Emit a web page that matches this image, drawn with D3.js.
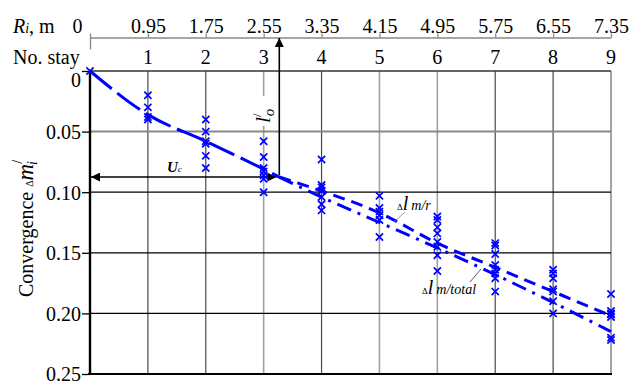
<!DOCTYPE html>
<html>
<head>
<meta charset="utf-8">
<script src="https://cdn.jsdelivr.net/npm/d3@7"></script>
<style>
  body { margin: 0; background: #fff; }
  svg { font-family: "Liberation Serif", "Times New Roman", serif; }
</style>
</head>
<body>
<svg id="chart" width="643" height="382"></svg>
<script>
// ----- data -----
const stays = [0, 1, 2, 3, 4, 5, 6, 7, 8, 9];
const radiusLabels = ["0", "0.95", "1.75", "2.55", "3.35", "4.15", "4.95", "5.75", "6.55", "7.35"];
const convTicks = [0, 0.05, 0.10, 0.15, 0.20, 0.25];

// measured convergence at each stay
const measured = [
  [0],
  [0.020, 0.030, 0.038, 0.040],
  [0.040, 0.050, 0.058, 0.060, 0.070, 0.080],
  [0.058, 0.071, 0.080, 0.083, 0.086, 0.089, 0.100],
  [0.073, 0.094, 0.096, 0.099, 0.104, 0.110, 0.115],
  [0.103, 0.113, 0.116, 0.119, 0.123, 0.137],
  [0.120, 0.123, 0.129, 0.134, 0.141, 0.145, 0.152, 0.165],
  [0.142, 0.144, 0.151, 0.160, 0.164, 0.167, 0.171, 0.182],
  [0.164, 0.167, 0.171, 0.180, 0.182, 0.190, 0.200],
  [0.184, 0.198, 0.200, 0.201, 0.203, 0.220, 0.222]
];

// fitted curves
const sharedStays = [0, 1, 2, 3, 3.27];
const sharedValues = [0, 0.036, 0.058, 0.081, 0.0875];
const splitStays = [3.27, 4, 5, 6, 7, 8, 9];
const mrValues = [0.0875, 0.099, 0.117, 0.142, 0.162, 0.182, 0.202];
const totalValues = [0.0875, 0.104, 0.125, 0.146, 0.168, 0.191, 0.215];

// annotation position (U_c / l'_o)
const markStay = 3.27;
const markLevel = 0.0875;

// ----- drawing -----
const svg = d3.select("svg#chart");
const blue = "#0000ff";

const x = d3.scaleLinear().domain([0, 9]).range([90, 611]);
const y = d3.scaleLinear().domain([0, 0.25]).range([71, 374]);

svg.append("defs").append("marker")
  .attr("id", "head")
  .attr("viewBox", "0 0 10 10")
  .attr("refX", 10).attr("refY", 5)
  .attr("markerWidth", 9).attr("markerHeight", 9)
  .attr("markerUnits", "userSpaceOnUse")
  .attr("orient", "auto-start-reverse")
  .append("path").attr("d", "M0,0L10,5L0,10z").attr("fill", "#000");

// gridlines
const light = new Set([3, 5, 6]);
svg.append("g").selectAll("line")
  .data(stays.slice(1))
  .join("line")
  .attr("x1", d => x(d)).attr("x2", d => x(d))
  .attr("y1", y(0)).attr("y2", y(0.25))
  .attr("stroke", d => light.has(d) ? "#a0a0a0" : (d === 9 ? "#666" : "#4a4a4a"))
  .attr("stroke-width", d => light.has(d) ? 1.6 : 1.2);

svg.append("g").selectAll("line")
  .data(convTicks.slice(0, -1))
  .join("line")
  .attr("x1", x(0)).attr("x2", x(9))
  .attr("y1", d => y(d)).attr("y2", d => y(d))
  .attr("stroke", d => d === 0.05 ? "#888" : (d === 0 ? "#333" : "#000"))
  .attr("stroke-width", d => d === 0.05 ? 2 : 1.3);

// bottom and left frame
svg.append("line").attr("x1", x(0) - 2).attr("x2", x(9) + 1)
  .attr("y1", y(0.25)).attr("y2", y(0.25)).attr("stroke", "#000").attr("stroke-width", 2);
svg.append("line").attr("x1", x(0)).attr("x2", x(0))
  .attr("y1", y(0)).attr("y2", y(0.25)).attr("stroke", "#000").attr("stroke-width", 2.4);

// left axis
const yAxis = d3.axisLeft(y)
  .tickValues(convTicks)
  .tickFormat(d => d === 0 ? "0" : d3.format(".2f")(d))
  .tickSize(8).tickSizeOuter(0).tickPadding(1);
const yG = svg.append("g").attr("transform", `translate(${x(0)},0)`).call(yAxis);
yG.select(".domain").remove();
yG.selectAll(".tick line").attr("stroke", "#000").attr("stroke-width", 1.3);
yG.selectAll(".tick text")
  .attr("font-family", "Liberation Serif, serif")
  .attr("font-size", 20).attr("fill", "#000")
  .attr("dy", d => d === 0 ? "0.75em" : "0.34em");

// top axis (radius)
const topAxis = d3.axisTop(x)
  .tickValues(stays)
  .tickFormat((d, i) => radiusLabels[i])
  .tickSize(4).tickSizeOuter(0).tickPadding(1);
const tG = svg.append("g").attr("transform", "translate(0,37.5)").call(topAxis);
tG.select(".domain").attr("stroke", "#888").attr("stroke-width", 1.5);
tG.selectAll(".tick line").attr("stroke", "#888").attr("stroke-width", 1.3);
tG.selectAll(".tick").filter(d => d === 0).select("line").attr("y1", 12).attr("y2", -4);
tG.selectAll(".tick text")
  .attr("font-family", "Liberation Serif, serif")
  .attr("font-size", 20).attr("fill", "#000")
  .attr("dx", d => d === 0 ? -13 : 0);

const rLab = svg.append("text").attr("x", 13).attr("y", 33).attr("font-size", 20);
rLab.append("tspan").attr("font-style", "italic").text("R");
rLab.append("tspan").attr("font-style", "italic").attr("font-size", 14).text("i");
rLab.append("tspan").text(", m");

svg.append("text").attr("x", 13).attr("y", 64).attr("font-size", 20).text("No. stay");

svg.append("g").selectAll("text")
  .data(stays.slice(1))
  .join("text")
  .attr("x", d => x(d)).attr("y", 64)
  .attr("text-anchor", "middle").attr("font-size", 20)
  .text(d => d);

// y title
const yt = svg.append("text")
  .attr("transform", "translate(33,297) rotate(-90)")
  .attr("font-size", 20);
yt.append("tspan").text("Convergence ");
yt.append("tspan").attr("font-size", 10).text("\u0394");
yt.append("tspan").attr("font-style", "italic").attr("font-size", 23).text("m");
yt.append("tspan").attr("font-size", 14).attr("dy", -11).text("/");
yt.append("tspan").attr("font-style", "italic").attr("font-size", 14).attr("dx", -5).attr("dy", 15).text("i");

// annotation arrows
svg.append("line")
  .attr("x1", x(markStay)).attr("x2", x(markStay))
  .attr("y1", y(markLevel) - 2).attr("y2", 38)
  .attr("stroke", "#000").attr("stroke-width", 1.6)
  .attr("marker-end", "url(#head)");
svg.append("line")
  .attr("x1", x(0) + 1).attr("x2", x(markStay) - 3)
  .attr("y1", y(markLevel)).attr("y2", y(markLevel))
  .attr("stroke", "#000").attr("stroke-width", 1.6)
  .attr("marker-start", "url(#head)")
  .attr("marker-end", "url(#head)");

const uc = svg.append("text").attr("x", 167).attr("y", 172)
  .attr("font-size", 15).attr("font-style", "italic").attr("font-weight", "bold");
uc.append("tspan").text("U");
uc.append("tspan").attr("font-size", 9).attr("font-weight", "normal").text("c");

svg.append("rect").attr("x", 255).attr("y", 96).attr("width", 18).attr("height", 30).attr("fill", "#fff");
const lo = svg.append("text").attr("transform", "translate(270,123) rotate(-90)").attr("font-size", 22);
lo.append("tspan").attr("font-style", "italic").text("l");
lo.append("tspan").attr("font-size", 13).attr("dy", -9).text("/");
lo.append("tspan").attr("font-style", "italic").attr("font-size", 15).attr("dx", -3).attr("dy", 13).text("o");

// fitted lines
const line = d3.line().x(d => x(d[0])).y(d => y(d[1])).curve(d3.curveMonotoneX);

svg.append("path")
  .datum(sharedStays.map((s, i) => [s, sharedValues[i]]))
  .attr("d", line).attr("fill", "none")
  .attr("stroke", blue).attr("stroke-width", 3)
  .attr("stroke-dasharray", "28,7");

svg.append("path")
  .datum(splitStays.map((s, i) => [s, mrValues[i]]))
  .attr("d", line).attr("fill", "none")
  .attr("stroke", blue).attr("stroke-width", 3)
  .attr("stroke-dasharray", "12,7");

svg.append("path")
  .datum(splitStays.map((s, i) => [s, totalValues[i]]))
  .attr("d", line).attr("fill", "none")
  .attr("stroke", blue).attr("stroke-width", 3)
  .attr("stroke-dasharray", "15,7,3,7");

// measured points as crosses
const pts = measured.flatMap((vals, i) => vals.map(v => [stays[i], v]));
const s = 3.6;
svg.append("g").selectAll("path")
  .data(pts)
  .join("path")
  .attr("d", d => {
    const cx = x(d[0]), cy = y(d[1]);
    return `M${cx - s},${cy - s}L${cx + s},${cy + s}M${cx - s},${cy + s}L${cx + s},${cy - s}`;
  })
  .attr("stroke", blue).attr("stroke-width", 1.7).attr("fill", "none");

// curve labels
svg.append("line").attr("x1", 394).attr("y1", 222).attr("x2", 405).attr("y2", 212)
  .attr("stroke", "#777").attr("stroke-width", 0.8);
const mr = svg.append("text").attr("x", 397).attr("y", 210).attr("font-style", "italic");
mr.append("tspan").attr("font-size", 9).attr("font-style", "normal").text("\u0394");
mr.append("tspan").attr("font-size", 20).text("l");
mr.append("tspan").attr("font-size", 14).attr("dx", 3).text("m/r");

svg.append("line").attr("x1", 470).attr("y1", 282).attr("x2", 481).attr("y2", 269)
  .attr("stroke", "#333").attr("stroke-width", 0.8);
const tot = svg.append("text").attr("x", 422).attr("y", 294).attr("font-style", "italic");
tot.append("tspan").attr("font-size", 9).attr("font-style", "normal").text("\u0394");
tot.append("tspan").attr("font-size", 20).text("l");
tot.append("tspan").attr("font-size", 14).attr("dx", 3).text("m/total");
</script>
</body>
</html>
